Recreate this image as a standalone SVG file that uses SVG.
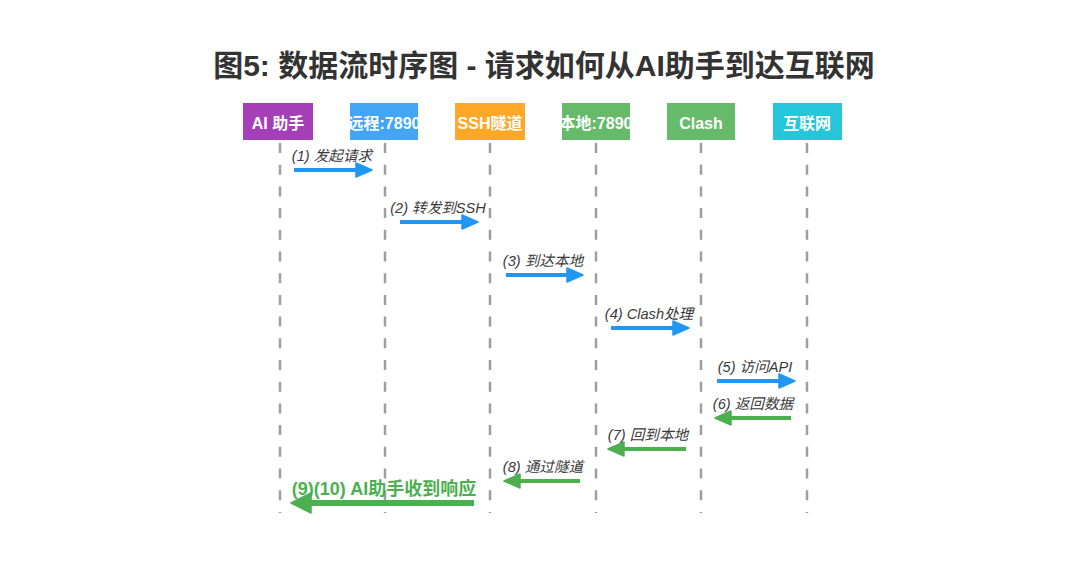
<svg xmlns="http://www.w3.org/2000/svg" width="1080" height="585" viewBox="0 0 1080 585">
<style>
.title{font-family:"Liberation Sans","Noto Sans CJK SC",sans-serif;font-size:30px;font-weight:bold;fill:#333;}
.nt{font-family:"Liberation Sans","Noto Sans CJK SC",sans-serif;font-size:16px;font-weight:bold;fill:#fff;text-anchor:middle;}
.life{stroke:#9e9e9e;stroke-width:2.5;stroke-dasharray:10 11.7;fill:none;}
.lbl{font-family:"Liberation Sans","Noto Sans CJK SC",sans-serif;font-size:14.6px;font-style:italic;fill:#3a3a3a;text-anchor:middle;}
.lblb{font-family:"Liberation Sans","Noto Sans CJK SC",sans-serif;font-size:18px;font-weight:bold;fill:#4caf50;text-anchor:middle;}
.req{stroke:#2196f3;stroke-width:4;fill:none;marker-end:url(#ab);}
.res{stroke:#4caf50;stroke-width:4;fill:none;marker-end:url(#ag);}
.resb{stroke:#4caf50;stroke-width:6;fill:none;marker-end:url(#agb);}
</style>
<defs>
<marker id="ab" markerUnits="userSpaceOnUse" markerWidth="18" markerHeight="16" refX="3" refY="8" orient="auto" overflow="visible">
<path d="M1,1 L17,8 L1,15 z" fill="#2196f3" stroke="#2196f3" stroke-width="1.5" stroke-linejoin="round"/>
</marker>
<marker id="ag" markerUnits="userSpaceOnUse" markerWidth="18" markerHeight="16" refX="3" refY="8" orient="auto" overflow="visible">
<path d="M1,1 L17,8 L1,15 z" fill="#4caf50" stroke="#4caf50" stroke-width="1.5" stroke-linejoin="round"/>
</marker>
<marker id="agb" markerUnits="userSpaceOnUse" markerWidth="22" markerHeight="22" refX="3" refY="11" orient="auto" overflow="visible">
<path d="M1,1 L21,11 L1,21 z" fill="#4caf50" stroke="#4caf50" stroke-width="1.5" stroke-linejoin="round"/>
</marker>
<clipPath id="c1"><rect x="243" y="103" width="70" height="37"/></clipPath>
<clipPath id="c2"><rect x="350" y="103" width="68" height="37"/></clipPath>
<clipPath id="c3"><rect x="455" y="103" width="70" height="37"/></clipPath>
<clipPath id="c4"><rect x="562" y="103" width="68" height="37"/></clipPath>
<clipPath id="c5"><rect x="667" y="103" width="68" height="37"/></clipPath>
<clipPath id="c6"><rect x="773" y="103" width="69" height="37"/></clipPath>
</defs>
<rect width="1080" height="585" fill="#fff"/>
<text class="title" x="544" y="76" text-anchor="middle">图5: 数据流时序图 - 请求如何从AI助手到达互联网</text>

<g id="lifelines">
<line class="life" x1="280" y1="143" x2="280" y2="513"/>
<line class="life" x1="385" y1="143" x2="385" y2="513"/>
<line class="life" x1="490" y1="143" x2="490" y2="513"/>
<line class="life" x1="596" y1="143" x2="596" y2="513"/>
<line class="life" x1="701" y1="143" x2="701" y2="513"/>
<line class="life" x1="807" y1="143" x2="807" y2="513"/>
</g>

<g id="node-ai">
<rect x="243" y="103" width="70" height="37" fill="#a43fb8"/>
<text class="nt" x="278" y="129" clip-path="url(#c1)">AI 助手</text>
</g>
<g id="node-remote">
<rect x="350" y="103" width="68" height="37" fill="#42a5f5"/>
<text class="nt" x="384" y="129" clip-path="url(#c2)">远程:7890</text>
</g>
<g id="node-ssh">
<rect x="455" y="103" width="70" height="37" fill="#ffa726"/>
<text class="nt" x="490" y="129" clip-path="url(#c3)">SSH隧道</text>
</g>
<g id="node-local">
<rect x="562" y="103" width="68" height="37" fill="#66bb6a"/>
<text class="nt" x="596" y="129" clip-path="url(#c4)">本地:7890</text>
</g>
<g id="node-clash">
<rect x="667" y="103" width="68" height="37" fill="#66bb6a"/>
<text class="nt" x="701" y="129" clip-path="url(#c5)">Clash</text>
</g>
<g id="node-internet">
<rect x="773" y="103" width="69" height="37" fill="#26c6da"/>
<text class="nt" x="807" y="129" clip-path="url(#c6)">互联网</text>
</g>

<g id="connectors">
<line class="req" x1="294" y1="170" x2="358" y2="170"/>
<line class="req" x1="400" y1="222" x2="464" y2="222"/>
<line class="req" x1="506" y1="275" x2="569" y2="275"/>
<line class="req" x1="611" y1="328" x2="675" y2="328"/>
<line class="req" x1="717" y1="381" x2="781" y2="381"/>
<line class="res" x1="791" y1="418" x2="729" y2="418"/>
<line class="res" x1="686" y1="449" x2="622" y2="449"/>
<line class="res" x1="580" y1="481" x2="518" y2="481"/>
<line class="resb" x1="474" y1="503" x2="309" y2="503"/>
<text class="lbl" x="332" y="161">(1) 发起请求</text>
<text class="lbl" x="438" y="213">(2) 转发到SSH</text>
<text class="lbl" x="543" y="266">(3) 到达本地</text>
<text class="lbl" x="649" y="319">(4) Clash处理</text>
<text class="lbl" x="755" y="372">(5) 访问API</text>
<text class="lbl" x="753" y="409">(6) 返回数据</text>
<text class="lbl" x="648" y="440">(7) 回到本地</text>
<text class="lbl" x="543" y="472">(8) 通过隧道</text>
<text class="lblb" x="384" y="495">(9)(10) AI助手收到响应</text>
</g>
</svg>
